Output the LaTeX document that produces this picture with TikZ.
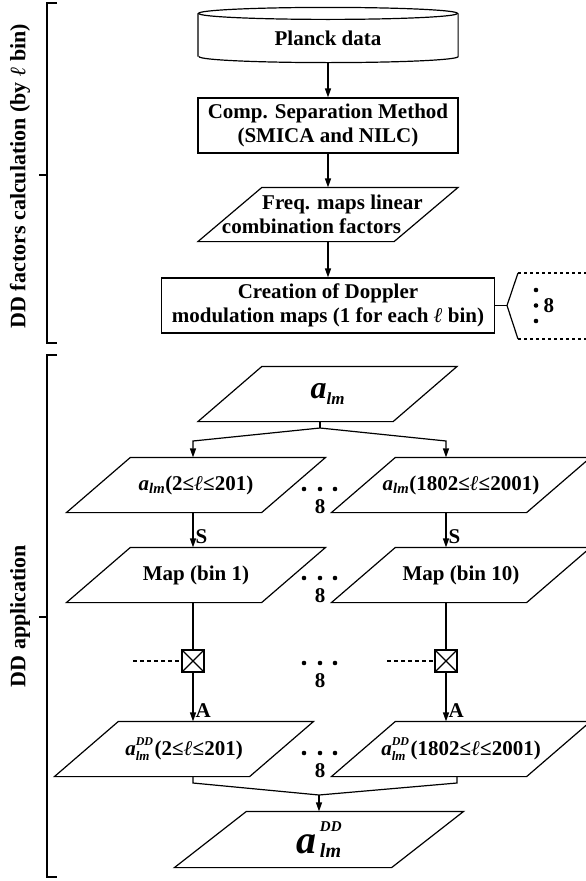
\documentclass[tikz,border=0pt]{standalone}
\usepackage{fontspec}
\setmainfont{Liberation Serif}
\usetikzlibrary{shapes.geometric,arrows.meta,positioning}

\newcommand{\alm}{\textit{a}\textsubscript{\textit{lm}}}
\newcommand{\aDD}{\textit{a}\rlap{\raisebox{10.5pt}{\fontsize{12}{12}\selectfont\textit{DD}}}\raisebox{-5pt}{\fontsize{13}{13}\selectfont\textit{lm}}}

\tikzset{
    every node/.style={font=\bfseries\fontsize{21}{24}\selectfont, inner sep=0pt},
    procbox/.style={draw, rectangle, align=center, minimum height=55pt},
    databox/.style={minimum width=258pt, minimum height=54pt, align=center,
        append after command={\pgfextra{\draw ([xshift=#1]\tikzlastnode.north west) -- (\tikzlastnode.north east)
            -- ([xshift=-#1]\tikzlastnode.south east) -- (\tikzlastnode.south west) -- cycle;}}},
    databox/.default=64pt,
    multbox/.style={draw, line width=2.6pt, minimum size=22pt,
        path picture={\draw[line width=1.3pt] (path picture bounding box.north west) -- (path picture bounding box.south east)
            (path picture bounding box.north east) -- (path picture bounding box.south west);}},
    flow/.style={-{Triangle[length=9pt,width=6pt]}},
    sidelbl/.style={rotate=90, font=\bfseries\fontsize{22}{24}\selectfont}
}

\begin{document}
\begin{tikzpicture}[x=1pt, y=-1pt, line width=1.2pt]
\useasboundingbox (0,0) rectangle (586,881);

\node[minimum width=259pt, minimum height=48pt] (planck) at (328,38) {Planck data};
\draw (planck.north) ellipse [x radius=129.5, y radius=6];
\draw ([yshift=6pt]planck.south west) -- (planck.north west)
      (planck.north east) -- ([yshift=6pt]planck.south east)
      arc[start angle=0, end angle=180, x radius=129.5, y radius=6];

\node[procbox, minimum width=260pt] (csm) at (328,125.5) {Comp. Separation Method\\(SMICA and NILC)};
\node[databox, minimum width=259pt, minimum height=53pt] (freq) at (328,214.5)
    {\hspace*{29pt}Freq. maps linear\\combination factors\hspace*{33pt}};
\node[procbox, minimum width=333pt] (dmaps) at (328,305.5) {Creation of Doppler\\modulation maps (1 for each \textit{ℓ} bin)};

\draw[flow] (planck) -- (csm);
\draw[flow] (csm) -- (freq);
\draw[flow] (freq) -- (dmaps);

\coordinate (bk) at (507,305.5);
\coordinate (bkT) at (518,273);
\coordinate (bkB) at (518,339);
\draw (dmaps.east) -- (bk);
\draw (bkT) -- (bk) -- (bkB);
\draw[dashed] (bkT) -- ++(68,0);
\draw[dashed] (bkB) -- ++(68,0);
\foreach \y in {290,305.5,321}
    \fill (536,\y) circle (2.3pt);
\node[anchor=west] (nbins) at (543,306) {8};

\node[databox] (alm) at (327.5,394)
    {{\fontsize{32}{32}\selectfont\textit{a}}\raisebox{-6pt}{\fontsize{17}{17}\selectfont\textit{lm}}};

\node[databox] (L1) at (196,485) {\alm(2≤\textit{ℓ}≤201)};
\node[databox] (R1) at (461,485) {\alm(1802≤\textit{ℓ}≤2001)};
\node[databox] (L2) at (196,575) {Map (bin 1)};
\node[databox] (R2) at (461,575) {Map (bin 10)};
\node[multbox] (mL) at (193,661) {};
\node[multbox] (mR) at (446,661) {};
\node[databox] (L3) at (184,749) {\aDD\ (2≤\textit{ℓ}≤201)};
\node[databox] (R3) at (461,749) {\aDD\ (1802≤\textit{ℓ}≤2001)};
\node[databox=72pt, minimum width=288pt, minimum height=55pt] (final) at (319,839.5)
    {{\fontsize{40}{40}\selectfont\textit{a}}\kern3pt\rlap{\raisebox{22pt}{\fontsize{15}{15}\selectfont\textit{DD}}}\raisebox{-4pt}{\fontsize{20}{20}\selectfont\textit{lm}}};

\coordinate (split) at (320,428);
\coordinate (forkL) at (193,441);
\coordinate (forkR) at (446,441);
\draw (alm.south -| split) -- (split);
\draw[flow] (split) -- (forkL) -- (forkL |- L1.north);
\draw[flow] (split) -- (forkR) -- (forkR |- R1.north);

\draw[flow] (forkL |- L1.south) -- (forkL |- L2.north) node[pos=.7, anchor=west, xshift=2pt] {S};
\draw[flow] (forkR |- R1.south) -- (forkR |- R2.north) node[pos=.7, anchor=west, xshift=2pt] {S};
\draw (forkL |- L2.south) -- (mL);
\draw (forkR |- R2.south) -- (mR);
\draw[flow] (mL) -- (mL |- L3.north) node[pos=.78, anchor=west, xshift=2pt] {A};
\draw[flow] (mR) -- (mR |- R3.north) node[pos=.78, anchor=west, xshift=2pt] {A};

\coordinate (dashL) at (133,661);
\coordinate (dashR) at (387,661);
\draw[dash pattern=on 4pt off 3pt] (dashL) -- (mL);
\draw[dash pattern=on 4pt off 3pt] (dashR) -- (mR);

\foreach \y [count=\i] in {489,578,663,753} {
    \foreach \x in {304,320,335}
        \fill (\x,\y) circle (2.3pt);
    \node (cnt\i) at (320,\y+18) {8};
}

\coordinate (join) at (319,795);
\coordinate (mergeL) at (193,783);
\coordinate (mergeR) at (457,783);
\draw (mergeL |- L3.south) -- (mergeL) -- (join) -- (mergeR) -- (mergeR |- R3.south);
\draw[flow] (join) -- (final.north);

\draw (57,3) -- (47,3) -- (47,343) -- (57,343);
\draw (47,175) -- (39,175);
\node[sidelbl] (lblfac) at (20,176) {DD factors calculation (by \textit{ℓ} bin)};
\draw (57,355) -- (47,355) -- (47,877) -- (57,877);
\draw (47,617) -- (39,617);
\node[sidelbl] (lblapp) at (20,616) {DD application};

\end{tikzpicture}
\end{document}
